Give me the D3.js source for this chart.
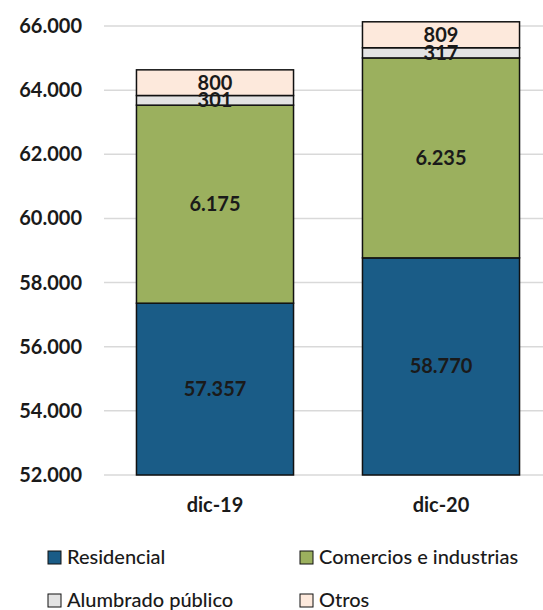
<!DOCTYPE html>
<html>
<head>
<meta charset="utf-8">
<script src="https://cdn.jsdelivr.net/npm/d3@7"></script>
<style>
  body { margin: 0; background: #fff; }
  text { font-family: Lato, "Open Sans", sans-serif; fill: #1a1a1a; }
</style>
</head>
<body>
<script>
// Data
var categories = ["dic-19", "dic-20"];
var seriesNames = ["Residencial", "Comercios e industrias", "Alumbrado público", "Otros"];
var residencial = [57357, 58770];
var comercios = [6175, 6235];
var alumbrado = [301, 317];
var otros = [800, 809];
var yTicks = [52000, 54000, 56000, 58000, 60000, 62000, 64000, 66000];

var colors = ["#1a5c87", "#9bb05e", "#e3e3e3", "#fde9dc"];

var width = 543, height = 610;

var svg = d3.select("body").append("svg")
    .attr("width", width)
    .attr("height", height);

// Scales
var x = d3.scaleBand()
    .domain(categories)
    .range([102, 554])
    .paddingInner(0.305)
    .paddingOuter(0.1525);

var y = d3.scaleLinear()
    .domain([52000, 66000])
    .range([475, 26]);

// Build table for stacking
var table = categories.map(function(c, i) {
  return {
    cat: c,
    "Residencial": residencial[i],
    "Comercios e industrias": comercios[i],
    "Alumbrado público": alumbrado[i],
    "Otros": otros[i]
  };
});

var stack = d3.stack().keys(seriesNames);
var layers = stack(table);

// Gridlines
svg.append("g")
  .selectAll("line")
  .data(yTicks)
  .enter().append("line")
    .attr("x1", 104)
    .attr("x2", width)
    .attr("y1", function(d) { return y(d); })
    .attr("y2", function(d) { return y(d); })
    .attr("stroke", "#d9d9d9")
    .attr("stroke-width", 1.5);

// Spanish number format: "." as thousands separator
var fmt = d3.formatLocale({decimal: ",", thousands: ".", grouping: [3], currency: ["", ""]}).format(",.0f");

svg.append("g")
  .selectAll("text")
  .data(yTicks)
  .enter().append("text")
    .attr("x", 82)
    .attr("y", function(d) { return y(d) + 7; })
    .attr("text-anchor", "end")
    .style("font-size", "20px")
    .style("font-weight", "bold")
    .text(function(d) { return fmt(d); });

// Bars
var groups = svg.append("g")
  .selectAll("g")
  .data(layers)
  .enter().append("g")
    .attr("fill", function(d, i) { return colors[i]; });

groups.selectAll("rect")
  .data(function(d) { return d; })
  .enter().append("rect")
    .attr("x", function(d) { return x(d.data.cat); })
    .attr("width", x.bandwidth())
    .attr("y", function(d) { return y(d[1]); })
    .attr("height", function(d) { return y(Math.max(d[0], 52000)) - y(d[1]); })
    .attr("stroke", "#111")
    .attr("stroke-width", 1.5);

// Data labels
var labels = svg.append("g");
layers.forEach(function(layer) {
  layer.forEach(function(d) {
    var lo = Math.max(d[0], 52000);
    labels.append("text")
      .attr("x", x(d.data.cat) + x.bandwidth() / 2)
      .attr("y", (y(lo) + y(d[1])) / 2 + 7)
      .attr("text-anchor", "middle")
      .style("font-size", "20px")
      .style("font-weight", "bold")
      .text(fmt(d[1] - d[0]));
  });
});

// Category labels
svg.append("g")
  .selectAll("text")
  .data(categories)
  .enter().append("text")
    .attr("x", function(d) { return x(d) + x.bandwidth() / 2; })
    .attr("y", 512)
    .attr("text-anchor", "middle")
    .style("font-size", "20px")
    .style("font-weight", "bold")
    .text(function(d) { return d; });

// Legend
var legendPos = [[48, 551], [300, 551], [48, 594], [300, 594]];
var legend = svg.append("g")
  .selectAll("g")
  .data(seriesNames)
  .enter().append("g")
    .attr("transform", function(d, i) { return "translate(" + legendPos[i][0] + "," + legendPos[i][1] + ")"; });

legend.append("rect")
    .attr("width", 13)
    .attr("height", 13)
    .attr("fill", function(d, i) { return colors[i]; })
    .attr("stroke", "#111")
    .attr("stroke-width", 1);

legend.append("text")
    .attr("x", 19)
    .attr("y", 13)
    .style("font-size", "20px")
    .style("font-weight", 500)
    .text(function(d) { return d; });
</script>
</body>
</html>
